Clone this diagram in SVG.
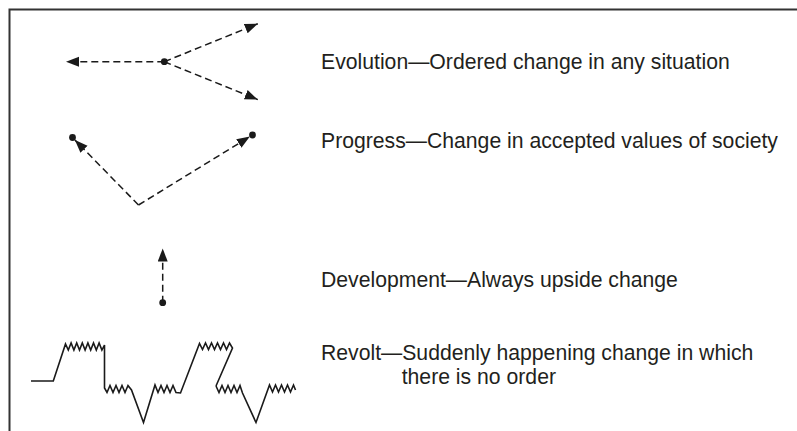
<svg xmlns="http://www.w3.org/2000/svg" width="797" height="431" viewBox="0 0 797 431">
  <style>
    .frame { fill: none; stroke: #333; stroke-width: 2; }
    .dash { fill: none; stroke: #1a1a1a; stroke-width: 1.5; stroke-dasharray: 7 4; }
    .dot { fill: #1a1a1a; }
    .zig { fill: none; stroke: #1a1a1a; stroke-width: 1.6; stroke-linejoin: miter; }
    .lbl { font-family: "Liberation Sans", Arial, sans-serif; font-size: 21.2px; fill: #231f20; }
  </style>
  <defs>
    <marker id="arrow" markerUnits="userSpaceOnUse" markerWidth="14" markerHeight="12" refX="13" refY="5" orient="auto">
      <path d="M0,0 L13,5 L0,10 Z" fill="#1a1a1a"/>
    </marker>
  </defs>
  <rect width="797" height="431" fill="#fff"/>
  <g id="frame">
    <path class="frame" d="M9.5,431 V9.5 H797"/>
  </g>
  <g id="connectors">
    <line class="dash" x1="164.3" y1="61.7" x2="66" y2="61.7" marker-end="url(#arrow)"/>
    <line class="dash" x1="164.3" y1="61.7" x2="257.8" y2="23.8" marker-end="url(#arrow)"/>
    <line class="dash" x1="164.3" y1="61.7" x2="257.8" y2="99.6" marker-end="url(#arrow)"/>
    <line class="dash" x1="138.5" y1="205" x2="74.9" y2="140" marker-end="url(#arrow)"/>
    <line class="dash" x1="138.5" y1="205" x2="249.9" y2="136.6" marker-end="url(#arrow)"/>
    <line class="dash" x1="162.7" y1="302.7" x2="162.7" y2="248.5" marker-end="url(#arrow)"/>
  </g>
  <g id="evolution">
    <circle class="dot" cx="164.3" cy="61.7" r="3.4"/>
    <text class="lbl" x="321" y="69.3">Evolution—Ordered change in any situation</text>
  </g>
  <g id="progress">
    <circle class="dot" cx="72.5" cy="137.5" r="3.4"/>
    <circle class="dot" cx="252.5" cy="135" r="3.4"/>
    <text class="lbl" x="321" y="147.5">Progress—Change in accepted values of society</text>
  </g>
  <g id="development">
    <circle class="dot" cx="162.7" cy="302.7" r="3.4"/>
    <text class="lbl" x="321" y="286.5">Development—Always upside change</text>
  </g>
  <g id="revolt">
    <polyline class="zig" points="31,381 53.3,381 65.5,344 68.3,350 71.1,343 73.9,350 76.7,343 79.5,350 82.3,343 85.1,350 87.9,343 90.7,350 93.5,343 96.3,350 99.1,343 101.9,350 104.5,345 104.5,388 107,392.5 110,385.5 113,392.5 116,385.5 119,392.5 122,385.5 125,392.5 128,385.5 131.5,390 143.5,422.5 155,385 158,392.5 161,385.5 164,392.5 167,385.5 170,392.5 173,385.5 176,392.5 180.5,393 199.5,343.5 202.5,349.5 205.5,343 208.5,349.5 211.5,343 214.5,349.5 217.5,343 220.5,349.5 223.5,343 226.5,349.5 229.5,343 232.5,348 216,386"/>
    <polyline class="zig" points="216,386 219,392.5 222,385.5 225,392.5 228,385.5 231,392.5 234,385.5 237,392.5 240,385.5 242.5,393 256,422.5 269.5,385 272.5,392 275.5,385 278.5,392 281.5,385 284.5,392 287.5,385 290.5,392 293.5,385 295.5,390"/>
    <text class="lbl" x="321" y="359.5">Revolt—Suddenly happening change in which</text>
    <text class="lbl" x="401.7" y="383.5">there is no order</text>
  </g>
</svg>
